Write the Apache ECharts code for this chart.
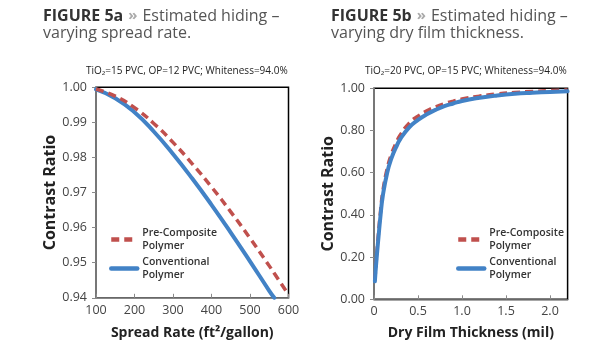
<!DOCTYPE html>
<html>
<head>
<meta charset="utf-8">
<script src="https://cdn.jsdelivr.net/npm/echarts@6/dist/echarts.min.js"></script>
<style>
  html, body { margin: 0; padding: 0; background: #fff; }
  #chart { width: 615px; height: 350px; }
</style>
</head>
<body>
<div id="chart"></div>
<script>
// Figure 5a - spread rate
const spreadRate = [100, 150, 200, 250, 300, 350, 400, 450, 500, 550, 563, 600]
const crConventionalA = [0.9994, 0.9969, 0.9929, 0.9874, 0.9810, 0.9740, 0.9665, 0.9586, 0.9504, 0.9420, 0.9400, null]
const crPreCompositeA = [0.9995, 0.9975, 0.9942, 0.9897, 0.9843, 0.9782, 0.9716, 0.9645, 0.9570, 0.9491, 0.9470, 0.9409]

// Figure 5b - dry film thickness
const filmThickness = [0.01, 0.025, 0.05, 0.075, 0.1, 0.15, 0.2, 0.25, 0.3, 0.4, 0.5, 0.6, 0.7, 0.8, 0.9, 1.0, 1.2, 1.4, 1.6, 1.8, 2.0, 2.2]
const crConventionalB = [0.085, 0.17, 0.29, 0.40, 0.49, 0.60, 0.67, 0.72, 0.76, 0.815, 0.85, 0.877, 0.898, 0.915, 0.928, 0.940, 0.955, 0.966, 0.974, 0.979, 0.983, 0.986]
const crPreCompositeB = [0.09, 0.18, 0.31, 0.42, 0.51, 0.62, 0.69, 0.74, 0.78, 0.835, 0.868, 0.893, 0.912, 0.927, 0.939, 0.949, 0.963, 0.973, 0.980, 0.985, 0.989, 0.992]

const seriesNames = ['Pre-Composite\nPolymer', 'Conventional\nPolymer']

const red = '#C0504D'
const blue = '#4282C6'
const font = 'Open Sans'

function pairs(xs, ys) {
  return xs.map((x, i) => [x, ys[i]]).filter(p => p[1] != null)
}

function titleText(fig, line1, line2) {
  return '{b|FIGURE ' + fig + '} {r|»} {a|' + line1 + '}\n{a|' + line2 + '}'
}

const titleRich = {
  b: { fontFamily: font, fontWeight: 'bold', fontSize: 16, color: '#333', lineHeight: 17 },
  r: { fontFamily: font, fontWeight: 'bold', fontSize: 15, color: '#aaa', lineHeight: 17 },
  a: { fontFamily: font, fontWeight: 'normal', fontSize: 16, color: '#555', lineHeight: 17 }
}

const axisLabelStyle = { fontFamily: font, fontSize: 12.5, color: '#444' }
const axisLine = { show: true, lineStyle: { color: '#8a8a8a', width: 1.5 } }
const axisTick = { show: true, length: 4, lineStyle: { color: '#8a8a8a' } }

function legendFor(left) {
  return {
    left: left,
    top: 220,
    orient: 'vertical',
    padding: 0,
    itemWidth: 26,
    itemHeight: 10,
    itemGap: -10,
    selectedMode: false,
    itemStyle: { opacity: 0 },
    lineStyle: { width: 4.5 },
    textStyle: {
      fontFamily: font, fontSize: 10.5, fontWeight: 600, color: '#333',
      lineHeight: 13, padding: [13, 0, 0, 0]
    },
    data: seriesNames
  }
}

const subStyle = { fontFamily: font, fontSize: 10, fontWeight: 'normal', color: '#222' }

const chart = echarts.init(document.getElementById('chart'))
chart.setOption({
  animation: false,
  title: [
    { left: 43, top: 7, padding: 0, text: titleText('5a', 'Estimated hiding –', 'varying spread rate.'), textStyle: { fontWeight: 'normal', rich: titleRich } },
    { left: 331, top: 7, padding: 0, text: titleText('5b', 'Estimated hiding –', 'varying dry film thickness.'), textStyle: { fontWeight: 'normal', rich: titleRich } },
    { left: 86, top: 66, padding: 0, text: 'TiO₂=15 PVC, OP=12 PVC; Whiteness=94.0%', textStyle: subStyle },
    { left: 365, top: 66, padding: 0, text: 'TiO₂=20 PVC, OP=15 PVC; Whiteness=94.0%', textStyle: subStyle }
  ],
  legend: [legendFor(109), legendFor(456)],
  grid: [
    { left: 96, top: 87.3, width: 192.5, height: 210.5, show: true, borderColor: '#000', borderWidth: 1.5 },
    { left: 374, top: 88.3, width: 193.6, height: 211, show: true, borderColor: '#000', borderWidth: 1.5 }
  ],
  xAxis: [
    {
      gridIndex: 0, type: 'value', min: 100, max: 600, interval: 100,
      name: 'Spread Rate (ft²/gallon)', nameLocation: 'middle', nameGap: 28,
      nameTextStyle: { fontFamily: font, fontSize: 14, fontWeight: 'bold', color: '#222' },
      axisLine: axisLine, axisTick: Object.assign({ inside: true }, axisTick), splitLine: { show: false },
      axisLabel: Object.assign({ margin: 6 }, axisLabelStyle)
    },
    {
      gridIndex: 1, type: 'value', min: 0, max: 2.2, interval: 0.5,
      name: 'Dry Film Thickness (mil)', nameLocation: 'middle', nameGap: 27,
      nameTextStyle: { fontFamily: font, fontSize: 14, fontWeight: 'bold', color: '#222' },
      axisLine: axisLine, axisTick: Object.assign({ inside: true }, axisTick), splitLine: { show: false },
      axisLabel: Object.assign({ margin: 6, showMaxLabel: false, formatter: v => v === 0 ? '0' : v.toFixed(1) }, axisLabelStyle)
    }
  ],
  yAxis: [
    {
      gridIndex: 0, type: 'value', min: 0.94, max: 1.0, interval: 0.01,
      name: 'Contrast Ratio', nameLocation: 'middle', nameGap: 37,
      nameTextStyle: { fontFamily: font, fontSize: 16, fontWeight: 'bold', color: '#222' },
      axisLine: axisLine, axisTick: axisTick, splitLine: { show: false },
      axisLabel: Object.assign({ margin: 9, formatter: v => v.toFixed(2) }, axisLabelStyle)
    },
    {
      gridIndex: 1, type: 'value', min: 0, max: 1.0, interval: 0.2,
      name: 'Contrast Ratio', nameLocation: 'middle', nameGap: 37,
      nameTextStyle: { fontFamily: font, fontSize: 16, fontWeight: 'bold', color: '#222' },
      axisLine: axisLine, axisTick: axisTick, splitLine: { show: false },
      axisLabel: Object.assign({ margin: 9, formatter: v => v.toFixed(2) }, axisLabelStyle)
    }
  ],
  series: [
    {
      name: seriesNames[1], type: 'line', xAxisIndex: 0, yAxisIndex: 0, smooth: true, symbol: 'none',
      color: blue, lineStyle: { width: 4, color: blue, cap: 'round' },
      data: pairs(spreadRate, crConventionalA)
    },
    {
      name: seriesNames[0], type: 'line', xAxisIndex: 0, yAxisIndex: 0, smooth: true, symbol: 'none',
      color: red, lineStyle: { width: 3.5, color: red, type: [8, 5] },
      data: pairs(spreadRate, crPreCompositeA)
    },
    {
      name: seriesNames[0], type: 'line', xAxisIndex: 1, yAxisIndex: 1, smooth: true, symbol: 'none',
      color: red, lineStyle: { width: 3.5, color: red, type: [8, 5] },
      data: pairs(filmThickness, crPreCompositeB)
    },
    {
      name: seriesNames[1], type: 'line', xAxisIndex: 1, yAxisIndex: 1, smooth: true, symbol: 'none',
      color: blue, lineStyle: { width: 4, color: blue, cap: 'round' },
      data: pairs(filmThickness, crConventionalB)
    }
  ]
})
</script>
</body>
</html>
